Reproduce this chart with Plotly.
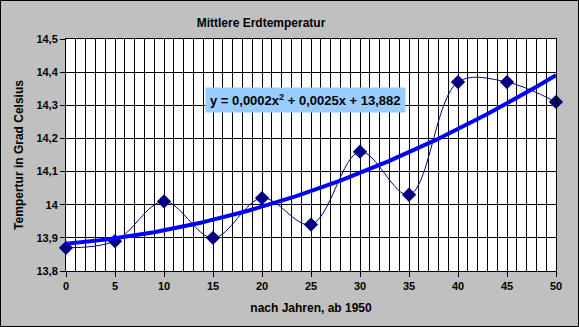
import numpy as np
import plotly.graph_objects as go

years = [0, 5, 10, 15, 20, 25, 30, 35, 40, 45, 50]
temps = [13.87, 13.89, 14.01, 13.90, 14.02, 13.94, 14.16, 14.03, 14.37, 14.37, 14.31]
y_ticks = [13.8, 13.9, 14.0, 14.1, 14.2, 14.3, 14.4, 14.5]
y_tick_labels = ["13,8", "13,9", "14", "14,1", "14,2", "14,3", "14,4", "14,5"]
x_ticks = [0, 5, 10, 15, 20, 25, 30, 35, 40, 45, 50]

coef = np.polyfit(years, temps, 2)
xt = np.linspace(0, 50, 201)
yt = np.polyval(coef, xt)

FONT = "Liberation Sans, Arial, sans-serif"
W, H = 579, 327
L, R, T, B = 66, 23, 39, 56
pw, ph = W - L - R, H - T - B

fig = go.Figure()
fig.add_trace(go.Scatter(x=years, y=temps, mode="lines+markers",
                         line=dict(color="#000080", width=1, shape="spline", smoothing=1.0),
                         marker=dict(symbol="diamond", size=11, color="#000080"),
                         showlegend=False, cliponaxis=False))
fig.add_trace(go.Scatter(x=xt, y=yt, mode="lines",
                         line=dict(color="#0000FF", width=4),
                         showlegend=False, cliponaxis=False))

fig.update_layout(
    width=W, height=H,
    margin=dict(l=L, r=R, t=T, b=B),
    paper_bgcolor="#C0C0C0",
    plot_bgcolor="white",
    font=dict(family=FONT, size=11, color="black"),
    title=dict(text="<b>Mittlere Erdtemperatur</b>", x=261 / W, xanchor="center",
               y=1 - 23 / H, yanchor="middle", font=dict(size=12, family=FONT)),
    xaxis=dict(range=[0, 50], tickvals=x_ticks, ticktext=[f"<b>{v}</b>" for v in x_ticks],
               showgrid=True, gridcolor="black", gridwidth=1,
               minor=dict(dtick=1, showgrid=True, gridcolor="black", gridwidth=1, ticks=""),
               ticks="outside", ticklen=5, tickcolor="black",
               showline=True, linecolor="black", mirror=True, zeroline=False,
               title=dict(text="<b>nach Jahren, ab 1950</b>", standoff=12, font=dict(size=12))),
    yaxis=dict(range=[13.8, 14.5], tickvals=y_ticks,
               ticktext=[f"<b>{t}</b>" for t in y_tick_labels],
               showgrid=True, gridcolor="black", gridwidth=1,
               ticks="outside", ticklen=5, tickcolor="black",
               showline=True, linecolor="black", mirror=True, zeroline=False,
               title=dict(text="<b>Tempertur in Grad Celsius</b>", standoff=10, font=dict(size=12))),
    annotations=[dict(
        text="<b>y = 0,0002x<sup>2</sup> + 0,0025x + 13,882</b>",
        xref="paper", yref="paper",
        x=(305 - L) / pw, y=(H - B - 100) / ph, xanchor="center", yanchor="middle",
        showarrow=False, bgcolor="#99CCFF", borderpad=4,
        font=dict(size=13, family=FONT, color="black"))],
    shapes=[dict(type="rect", xref="paper", yref="paper",
                 x0=(0.5 - L) / pw, x1=(W - 0.5 - L) / pw,
                 y0=(B - H + 0.5) / ph + 0, y1=(H - B - 0.5 + (B)) / ph,
                 line=dict(color="black", width=1), layer="below")],
)
# fix border rect y coords properly
fig.layout.shapes[0].y0 = -(B - 0.5) / ph
fig.layout.shapes[0].y1 = (ph + T - 0.5) / ph

fig.write_html("out.html")
